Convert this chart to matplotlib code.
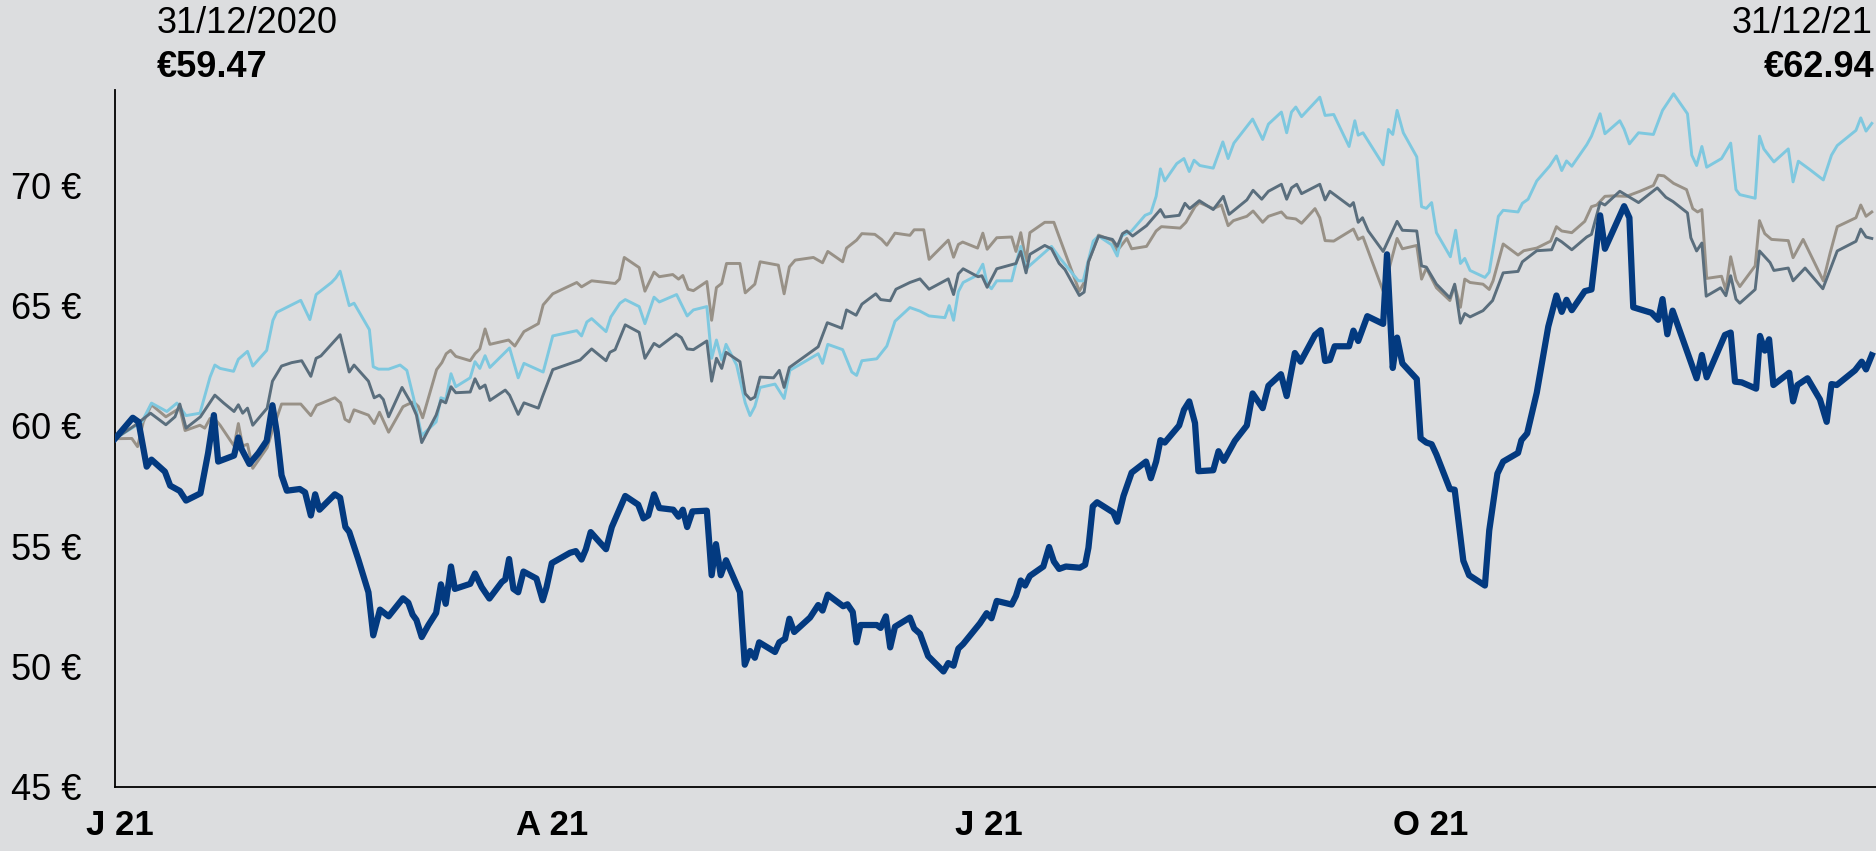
import matplotlib
matplotlib.use("Agg")
import matplotlib.pyplot as plt
import pandas as pd

# ---------------- data (days after 31/12/2020, price in EUR) ----------------
start_date = "2020-12-31"

main_days = [0, 3.7, 4.9, 6.6, 7.6, 10.4, 11.5, 13.5, 14.8, 17.8, 19.4, 20.6, 21.5, 24.8, 25.7, 26.4,
             28.0, 29.9, 31.6, 32.8, 33.7, 34.7, 35.8, 38.5, 39.6, 40.8, 41.7, 42.6, 45.8, 46.9, 48.0,
             48.8, 50.7, 52.8, 53.8, 55.2, 57.0, 60.0, 61.1, 62.0, 62.8, 63.9, 65.3, 66.9, 67.9, 68.9,
             70.0, 70.8, 74.0, 75.0, 76.4, 78.0, 80.6, 81.3, 82.1, 83.0, 84.0, 85.1, 87.8, 89.1, 89.9,
             91.0, 94.8, 96.0, 97.2, 98.1, 99.1, 100.7, 102.3, 103.5, 106.3, 109.0, 110.1, 111.1, 112.3,
             113.4, 116.3, 117.4, 118.3, 119.2, 120.3, 123.3, 124.3, 125.2, 126.2, 127.3, 130.2, 131.2,
             132.3, 133.3, 134.2, 137.5, 138.4, 139.6, 140.5, 141.5, 144.8, 146.5, 147.4, 148.5, 151.7,
             152.6, 153.7, 154.5, 155.3, 158.7, 159.5, 160.6, 161.5, 162.5, 165.6, 166.5, 167.7, 169.4,
             172.6, 173.6, 174.7, 175.7, 176.7, 180.2, 181.6, 182.6, 183.7, 186.8, 187.7, 188.7, 189.6,
             190.6, 193.4, 194.6, 195.6, 196.7, 198.1, 201.0, 202.1, 202.8, 203.7, 204.6, 208.0, 208.8,
             210.1, 211.8, 214.8, 215.8, 216.9, 217.8, 218.7, 221.7, 222.7, 223.8, 225.0, 225.7, 228.8,
             229.9, 231.0, 233.3, 235.8, 237.0, 239.1, 240.3, 242.9, 244.1, 245.8, 247.0, 250.0, 251.2,
             252.1, 253.1, 254.1, 257.1, 258.0, 259.0, 260.9, 264.2, 265.0, 266.2, 267.1, 268.2, 271.2,
             272.0, 273.2, 274.3, 275.3, 278.1, 279.1, 280.9, 282.1, 285.4, 286.3, 288.0, 289.2, 292.3,
             293.0, 294.2, 296.2, 298.6, 300.3, 301.4, 302.4, 303.5, 306.2, 307.6, 309.4, 310.4, 314.4,
             315.5, 316.3, 320.1, 321.5, 322.4, 323.4, 324.5, 329.5, 330.6, 331.6, 335.4, 336.6, 337.5,
             338.9, 341.9, 342.7, 343.7, 344.6, 345.5, 348.8, 349.6, 350.5, 352.6, 355.2, 356.6, 357.6,
             358.7, 362.5, 363.9, 364.8, 366.0]
main_vals = [59.47, 60.34, 60.17, 58.31, 58.6, 58.1, 57.52, 57.3, 56.9, 57.2, 58.88, 60.45, 58.52, 58.77,
             59.52, 59.03, 58.42, 58.88, 59.38, 60.86, 59.74, 57.95, 57.31, 57.38, 57.24, 56.28, 57.16,
             56.52, 57.16, 57.02, 55.8, 55.6, 54.45, 53.09, 51.3, 52.37, 52.09, 52.84, 52.66, 52.16,
             51.94, 51.23, 51.73, 52.23, 53.42, 52.61, 54.16, 53.23, 53.44, 53.87, 53.3, 52.83, 53.52,
             53.62, 54.47, 53.23, 53.09, 53.95, 53.66, 52.76, 53.3, 54.3, 54.73, 54.8, 54.45, 54.88,
             55.59, 55.23, 54.88, 55.8, 57.09, 56.73, 56.16, 56.28, 57.16, 56.59, 56.52, 56.23, 56.52,
             55.8, 56.45, 56.48, 53.8, 55.09, 53.8, 54.42, 53.09, 50.08, 50.65, 50.37, 51.01, 50.61,
             51.01, 51.16, 51.99, 51.44, 52.04, 52.56, 52.33, 52.99, 52.51, 52.59, 52.27, 51.01, 51.73,
             51.73, 51.61, 52.09, 50.8, 51.66, 52.04, 51.58, 51.37, 50.44, 49.8, 50.15, 50.04, 50.75,
             50.94, 51.8, 52.22, 52.01, 52.73, 52.58, 52.94, 53.58, 53.37, 53.77, 54.16, 54.97, 54.37,
             54.06, 54.16, 54.11, 54.23, 54.94, 56.66, 56.83, 56.4, 56.02, 57.09, 58.06, 58.52, 57.83,
             58.52, 59.41, 59.31, 60.02, 60.67, 61.02, 60.12, 58.12, 58.16, 58.95, 58.55, 59.38, 60.02,
             61.35, 60.74, 61.67, 62.15, 61.24, 63.03, 62.67, 63.78, 63.98, 62.7, 62.74, 63.31, 63.31,
             63.96, 63.53, 64.56, 64.24, 67.13, 62.41, 63.67, 62.6, 61.95, 59.49, 59.31, 59.24, 58.81,
             57.38, 57.35, 54.4, 53.8, 53.37, 55.66, 58.02, 58.52, 58.88, 59.41, 59.69, 61.38, 64.13,
             65.42, 64.74, 65.24, 64.81, 65.6, 65.67, 68.75, 67.36, 69.13, 68.65, 64.93, 64.7, 64.41,
             65.27, 63.81, 64.79, 61.98, 62.95, 62.02, 63.78, 63.88, 61.84, 61.81, 61.55, 63.74, 63.13,
             63.6, 61.7, 62.21, 61.02, 61.7, 61.98, 61.1, 60.17, 61.74, 61.7, 62.31, 62.67, 62.35, 62.94]

light_days = [0, 5.6, 7.6, 10.8, 12.9, 14.8, 17.7, 19.8, 20.8, 21.9, 24.7, 25.7, 27.6, 28.7, 31.6, 32.9,
              33.7, 35.1, 38.7, 40.6, 41.9, 45.1, 46.0, 46.9, 48.8, 49.8, 53.0, 53.8, 54.9, 57.0, 59.4,
              60.8, 62.2, 63.9, 66.9, 67.9, 68.9, 70.0, 71.0, 74.0, 75.0, 76.0, 77.1, 78.1, 82.2, 84.0,
              85.2, 89.2, 91.2, 96.2, 97.2, 98.3, 99.3, 102.3, 103.3, 105.2, 106.3, 109.2, 110.4, 112.3,
              113.4, 117.0, 119.2, 120.5, 123.3, 124.3, 125.3, 126.4, 127.3, 129.5, 131.3, 132.3, 133.3,
              134.4, 137.5, 139.4, 140.6, 146.5, 147.4, 148.5, 151.6, 153.5, 154.5, 155.6, 158.7, 160.8,
              162.5, 165.6, 167.7, 169.6, 172.9, 173.8, 174.7, 175.7, 176.7, 179.5, 180.8, 181.7, 182.6,
              183.7, 186.8, 187.7, 188.7, 189.8, 195.1, 196.9, 198.1, 200.7, 201.7, 203.8, 204.9, 207.6,
              208.8, 209.7, 211.8, 214.6, 215.8, 216.9, 217.8, 218.7, 221.2, 222.7, 223.8, 224.8, 226.0,
              228.8, 230.8, 231.9, 233.1, 237.0, 239.1, 240.3, 243.0, 244.1, 245.1, 246.0, 247.2, 251.0,
              252.1, 253.9, 257.1, 258.3, 259.0, 260.0, 264.2, 265.3, 266.2, 267.1, 268.4, 271.2, 272.2,
              273.2, 274.3, 275.3, 278.2, 279.3, 280.3, 281.2, 282.3, 285.4, 286.3, 288.2, 289.2, 292.3,
              293.2, 294.4, 296.2, 298.9, 300.3, 301.4, 302.4, 303.5, 306.6, 307.6, 309.4, 310.4, 313.5,
              314.4, 315.5, 317.4, 320.5, 322.4, 324.7, 327.6, 328.5, 329.5, 330.6, 331.6, 334.7, 336.6,
              337.7, 338.5, 341.7, 342.6, 343.5, 345.6, 348.6, 349.6, 350.7, 353.1, 355.9, 357.6, 358.8,
              362.7, 363.7, 364.8, 366.0]
light_vals = [59.47, 60.17, 60.95, 60.6, 60.95, 60.43, 60.53, 62.03, 62.53, 62.39, 62.27, 62.77, 63.1,
              62.49, 63.14, 64.39, 64.72, 64.86, 65.22, 64.42, 65.46, 65.96, 66.15, 66.43, 65.0, 65.1,
              64.0, 62.46, 62.36, 62.36, 62.53, 62.31, 61.17, 59.6, 60.17, 61.17, 61.1, 62.17, 61.63,
              62.0, 62.67, 62.39, 62.92, 62.43, 63.24, 62.0, 62.6, 62.24, 63.74, 63.96, 63.74, 64.32,
              64.46, 63.92, 64.53, 65.1, 65.25, 64.96, 64.25, 65.35, 65.15, 65.46, 64.57, 64.82, 64.96,
              62.81, 63.57, 62.74, 63.39, 62.53, 60.96, 60.43, 60.81, 61.6, 61.74, 61.14, 62.31, 63.0,
              62.6, 63.39, 63.17, 62.24, 62.1, 62.71, 62.79, 63.32, 64.35, 64.92, 64.77, 64.57, 64.5,
              65.0, 64.39, 65.58, 65.96, 66.25, 66.72, 65.89, 65.7, 66.03, 66.03, 66.75, 67.46, 66.53,
              67.46, 66.96, 66.67, 66.03, 66.03, 67.68, 67.89, 67.53, 67.06, 67.89, 68.1, 68.75, 68.85,
              69.54, 70.68, 70.18, 70.9, 71.11, 70.57, 71.04, 70.82, 70.71, 71.8, 71.11, 71.75, 72.75,
              71.9, 72.54, 73.04, 72.18, 73.04, 73.25, 72.85, 73.66, 72.9, 72.94, 71.61, 72.68, 72.08,
              72.18, 70.85, 72.32, 72.11, 73.11, 72.18, 71.18, 69.11, 69.04, 69.28, 68.03, 67.03, 68.13,
              66.75, 66.96, 66.46, 66.17, 66.39, 68.71, 68.96, 68.89, 69.25, 69.42, 70.18, 70.8, 71.22,
              70.61, 71.01, 70.79, 71.68, 72.04, 72.97, 72.14, 72.68, 72.33, 71.72, 72.18, 72.11, 73.11,
              73.8, 72.97, 71.25, 70.82, 71.61, 70.75, 71.11, 71.75, 69.82, 69.61, 69.46, 72.04, 71.51,
              70.97, 71.51, 70.14, 71.0, 70.65, 70.22, 71.25, 71.65, 72.28, 72.8, 72.25, 72.57]

slate_days = [0, 4.2, 7.4, 10.6, 12.5, 13.5, 14.8, 17.8, 20.8, 22.6, 24.8, 25.7, 26.6, 27.6, 28.7, 31.7,
              32.8, 34.7, 36.8, 38.9, 40.8, 41.9, 42.9, 46.9, 48.8, 49.8, 52.8, 54.0, 55.1, 55.9, 57.0,
              59.8, 61.8, 62.8, 63.9, 66.9, 67.9, 68.9, 70.0, 71.0, 74.0, 75.0, 76.0, 77.1, 78.1, 81.3,
              82.2, 84.0, 85.2, 88.2, 89.1, 91.2, 96.9, 99.3, 102.3, 103.1, 104.2, 106.3, 109.2, 110.4,
              112.3, 113.4, 116.9, 118.0, 119.2, 120.5, 123.3, 124.3, 125.3, 126.4, 127.3, 130.2, 131.3,
              132.4, 133.3, 134.4, 137.2, 138.4, 139.4, 140.5, 146.5, 148.4, 151.4, 152.4, 154.4, 155.6,
              158.5, 159.5, 161.5, 162.7, 165.6, 167.7, 169.6, 173.6, 174.7, 175.7, 176.7, 179.8, 180.6,
              181.7, 183.7, 187.7, 188.7, 189.8, 190.6, 193.7, 195.1, 196.7, 197.9, 200.9, 201.9, 202.8,
              204.9, 207.8, 208.8, 209.9, 210.8, 212.0, 214.9, 217.8, 218.7, 221.7, 222.9, 223.9, 225.9,
              228.8, 230.9, 232.1, 235.8, 237.1, 238.9, 240.3, 243.0, 244.1, 245.1, 246.2, 247.2, 251.0,
              252.1, 253.1, 257.3, 258.0, 259.0, 259.9, 261.1, 264.2, 267.1, 268.2, 271.2, 272.2, 273.2,
              275.3, 278.1, 279.1, 280.3, 281.2, 282.3, 285.0, 287.0, 289.2, 292.3, 293.2, 296.2, 299.3,
              300.3, 301.4, 303.5, 306.6, 307.6, 309.4, 310.4, 313.5, 317.4, 321.3, 323.1, 324.6, 327.6,
              328.3, 329.5, 330.6, 331.5, 334.5, 335.6, 336.6, 337.7, 338.5, 341.7, 342.6, 344.8, 345.6,
              348.6, 349.6, 352.1, 355.8, 358.8, 362.7, 363.7, 364.8, 366.0]
slate_vals = [59.47, 60.03, 60.53, 60.05, 60.38, 60.91, 59.91, 60.38, 61.28, 60.96, 60.6, 60.88, 60.53,
              60.74, 60.03, 60.74, 61.86, 62.49, 62.63, 62.71, 62.06, 62.81, 62.91, 63.79, 62.24, 62.53,
              61.86, 61.17, 61.28, 61.1, 60.38, 61.6, 60.91, 60.45, 59.31, 60.45, 61.06, 60.96, 61.63,
              61.38, 61.41, 61.96, 61.56, 61.7, 61.06, 61.49, 61.28, 60.48, 60.96, 60.74, 61.24, 62.34,
              62.74, 63.2, 62.71, 63.06, 63.17, 64.2, 63.89, 62.81, 63.43, 63.29, 63.82, 63.67, 63.2,
              63.17, 63.53, 61.86, 62.81, 62.39, 63.06, 62.67, 61.34, 61.1, 61.2, 62.03, 62.0, 62.31,
              61.6, 62.43, 63.29, 64.29, 64.06, 64.82, 64.6, 65.06, 65.49, 65.25, 65.2, 65.68, 65.96,
              66.11, 65.68, 66.11, 65.46, 66.32, 66.53, 66.2, 66.24, 65.76, 66.53, 66.75, 67.25, 66.36,
              67.13, 67.5, 67.36, 66.75, 66.5, 65.42, 65.56, 66.82, 67.89, 67.75, 67.46, 67.99, 68.1,
              67.89, 68.32, 68.99, 68.68, 68.75, 69.25, 69.03, 69.36, 68.99, 69.54, 68.79, 69.39, 69.79,
              69.42, 69.75, 70.04, 69.42, 69.89, 70.04, 69.65, 70.04, 69.39, 69.75, 69.13, 69.28, 68.46,
              68.65, 68.1, 67.25, 68.5, 68.13, 68.1, 66.65, 66.6, 65.89, 65.32, 65.89, 64.27, 64.67,
              64.53, 64.79, 65.21, 66.36, 66.42, 66.82, 67.28, 67.32, 67.79, 67.65, 67.32, 67.85, 67.96,
              69.28, 69.18, 69.75, 69.28, 69.89, 69.5, 69.32, 68.85, 67.82, 67.27, 67.6, 65.39, 65.74,
              65.41, 66.24, 65.27, 65.1, 65.67, 67.27, 66.79, 66.46, 66.56, 66.03, 66.56, 65.7, 67.27,
              67.67, 68.18, 67.85, 67.79]

taupe_days = [0, 3.5, 4.7, 5.9, 7.6, 10.6, 13.5, 14.6, 17.7, 18.7, 19.8, 21.0, 21.9, 24.8, 25.7, 26.6,
              27.6, 28.7, 31.7, 32.8, 34.7, 38.7, 40.8, 42.0, 45.8, 47.0, 47.9, 48.8, 49.8, 52.8, 54.0,
              55.1, 57.0, 60.0, 60.8, 62.2, 63.2, 64.1, 67.0, 68.1, 69.0, 69.9, 71.0, 74.0, 75.0, 76.0,
              77.1, 78.1, 82.0, 83.3, 85.2, 88.2, 89.2, 91.2, 96.2, 97.2, 99.3, 102.3, 104.2, 105.1,
              106.1, 109.2, 110.4, 112.3, 113.4, 116.2, 117.4, 118.3, 119.4, 120.5, 123.3, 124.3, 125.3,
              126.4, 127.4, 130.2, 131.3, 133.3, 134.4, 138.2, 139.4, 140.5, 141.7, 145.5, 147.4, 148.5,
              151.6, 152.4, 154.5, 155.6, 158.3, 159.7, 160.8, 162.5, 165.6, 166.5, 168.5, 169.6, 173.6,
              174.7, 175.7, 176.6, 179.7, 180.8, 181.7, 183.7, 186.8, 187.7, 188.7, 189.8, 190.6, 193.7,
              195.6, 196.9, 200.9, 201.9, 202.8, 204.9, 207.8, 208.8, 210.8, 211.8, 214.9, 216.9, 218.0,
              221.9, 223.1, 225.0, 225.9, 228.8, 230.5, 231.9, 233.0, 235.8, 237.1, 239.1, 240.3, 243.0,
              244.1, 246.0, 247.2, 250.0, 251.0, 252.1, 253.9, 258.0, 259.0, 260.0, 264.2, 267.1, 268.2,
              271.2, 272.2, 273.2, 275.3, 278.1, 279.1, 280.3, 281.2, 282.3, 285.0, 286.3, 287.1, 289.2,
              292.3, 293.5, 296.2, 299.1, 300.3, 301.4, 303.5, 306.2, 307.6, 308.7, 310.4, 312.2, 314.9,
              317.7, 320.5, 321.5, 322.7, 324.7, 327.4, 328.7, 329.7, 330.6, 331.6, 334.7, 335.6, 336.6,
              337.7, 338.5, 341.7, 342.6, 343.7, 345.1, 348.6, 349.6, 351.7, 355.9, 357.3, 358.8, 362.7,
              363.7, 364.8, 366.0]
taupe_vals = [59.47, 59.48, 59.14, 60.17, 60.88, 60.38, 60.74, 59.81, 60.03, 59.91, 60.31, 60.24, 60.03,
              59.17, 60.1, 59.17, 59.24, 58.24, 59.1, 59.81, 60.91, 60.91, 60.43, 60.86, 61.17, 60.96,
              60.28, 60.17, 60.67, 60.45, 60.1, 60.57, 59.74, 60.8, 60.88, 61.0, 60.81, 60.34, 62.34,
              62.63, 63.0, 63.14, 62.89, 62.71, 63.0, 63.2, 64.03, 63.39, 63.57, 63.32, 63.92, 64.25,
              65.03, 65.49, 65.96, 65.78, 66.03, 65.96, 65.92, 66.1, 67.0, 66.58, 65.6, 66.39, 66.2,
              66.29, 66.1, 66.25, 65.68, 65.62, 66.0, 64.39, 65.75, 65.92, 66.75, 66.75, 65.53, 65.89,
              66.82, 66.68, 65.49, 66.61, 66.89, 67.0, 66.78, 67.25, 66.82, 67.39, 67.72, 67.99, 67.96,
              67.75, 67.51, 68.01, 67.92, 68.15, 68.15, 66.92, 67.72, 67.01, 67.54, 67.64, 67.39, 68.01,
              67.34, 67.82, 67.85, 67.25, 68.03, 66.85, 68.03, 68.46, 68.46, 67.75, 65.6, 65.96, 66.82,
              67.93, 67.7, 67.28, 67.79, 67.36, 67.46, 68.1, 68.28, 68.22, 68.46, 69.11, 69.28, 69.03,
              69.18, 68.32, 68.53, 68.71, 68.93, 68.46, 68.71, 68.89, 68.65, 68.6, 68.42, 69.03, 68.65,
              67.7, 67.68, 68.18, 67.75, 67.85, 65.6, 67.79, 67.36, 67.5, 66.1, 66.56, 65.74, 65.21,
              65.84, 64.93, 66.1, 65.96, 65.89, 65.67, 66.03, 67.56, 67.1, 67.28, 67.39, 67.68, 68.28,
              68.1, 68.03, 68.5, 69.11, 69.18, 69.54, 69.56, 69.54, 69.75, 69.99, 70.42, 70.39, 70.08,
              69.82, 69.03, 68.89, 68.99, 66.13, 66.22, 65.64, 67.03, 66.07, 65.79, 66.65, 68.53, 67.99,
              67.75, 67.7, 66.99, 67.75, 66.03, 67.17, 68.28, 68.65, 69.18, 68.71, 68.89]

y_ticks = [45, 50, 55, 60, 65, 70]
x_tick_dates = ["2021-01-01", "2021-04-01", "2021-07-01", "2021-10-01"]
x_tick_labels = ["J 21", "A 21", "J 21", "O 21"]
start_label, start_price = "31/12/2020", "€59.47"
end_label, end_price = "31/12/21", "€62.94"

# ---------------- styling ----------------
BG = "#DCDDDF"
C_MAIN = "#033A80"
C_LIGHT = "#7EC8DF"
C_SLATE = "#5A6E7D"
C_TAUPE = "#989187"
FONT = "Liberation Sans"

W, H = 1876, 851
fig = plt.figure(figsize=(W / 100, H / 100), dpi=100, facecolor=BG)
ax_left, ax_right, ax_bottom, ax_top = 115, 1876, 787, 90
ax = fig.add_axes([ax_left / W, (H - ax_bottom) / H, (ax_right - ax_left) / W, (ax_bottom - ax_top) / H])
ax.set_facecolor(BG)

t0 = pd.Timestamp(start_date)
def to_dates(days):
    return t0 + pd.to_timedelta(days, unit="D")

ax.plot(to_dates(taupe_days), taupe_vals, color=C_TAUPE, lw=2.1, zorder=2)
ax.plot(to_dates(light_days), light_vals, color=C_LIGHT, lw=2.1, zorder=3)
ax.plot(to_dates(slate_days), slate_vals, color=C_SLATE, lw=2.1, zorder=4)
ax.plot(to_dates(main_days), main_vals, color=C_MAIN, lw=4.5, zorder=5)

ax.set_xlim(t0, t0 + pd.Timedelta(days=(ax_right - ax_left) / 4.8))
ax.set_ylim(45, 45 + (ax_bottom - ax_top) / 24.07)

ax.set_yticks(y_ticks)
ax.set_yticklabels([f"{v} €" for v in y_ticks], fontsize=26, family=FONT, color="black")
ax.set_xticks([pd.Timestamp(d) for d in x_tick_dates])
ax.set_xticklabels(x_tick_labels, fontsize=25, family=FONT, fontweight="bold", color="black")
ax.tick_params(axis="y", length=0, pad=24)
ax.tick_params(axis="x", length=0, pad=16)

for s in ["top", "right"]:
    ax.spines[s].set_visible(False)
for s in ["left", "bottom"]:
    ax.spines[s].set_color("black")
    ax.spines[s].set_linewidth(1.3)

# annotations
fig.text(157 / W, 1 - 33 / H, start_label, fontsize=26, family=FONT, ha="left", va="baseline")
fig.text(157 / W, 1 - 77 / H, start_price, fontsize=26, family=FONT, fontweight="bold", ha="left", va="baseline")
fig.text(1873 / W, 1 - 33 / H, end_label, fontsize=26, family=FONT, ha="right", va="baseline")
fig.text(1875 / W, 1 - 77 / H, end_price, fontsize=26, family=FONT, fontweight="bold", ha="right", va="baseline")

fig.savefig("out.png", dpi=100, facecolor=BG)
